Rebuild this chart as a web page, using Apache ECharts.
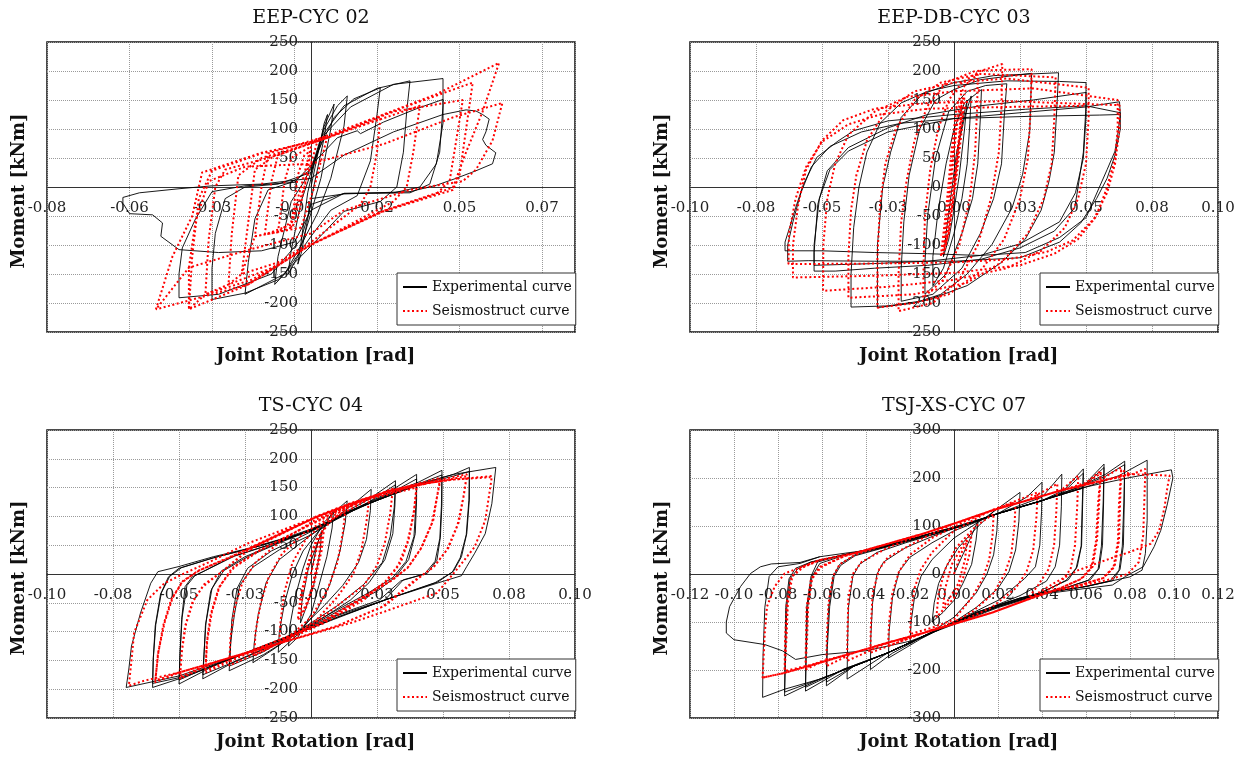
<!DOCTYPE html>
<html><head><meta charset="utf-8">
<script src="https://cdn.jsdelivr.net/npm/echarts@6.0.0/dist/echarts.min.js"></script>
<style>html,body{margin:0;padding:0;background:#fff}#c{width:1242px;height:761px}</style>
</head><body><div id="c"></div>
<script>
// ---------------- data ----------------
const panelTitles = ['EEP-CYC 02', 'EEP-DB-CYC 03', 'TS-CYC 04', 'TSJ-XS-CYC 07'];
const seriesNames = ['Experimental curve', 'Seismostruct curve'];
const xAxisTitle = 'Joint Rotation [rad]';
const yAxisTitle = 'Moment [kNm]';
const xMin = [-0.08, -0.10, -0.10, -0.12];
const xMax = [0.08, 0.10, 0.10, 0.12];
const xStep = [0.025, 0.025, 0.025, 0.02];
const yMin = [-250, -250, -250, -300];
const yMax = [250, 250, 250, 300];
const yStep = [50, 50, 50, 100];

// EEP-CYC 02
const exp1 = [
[0,0],[0.002,55],[0.004,110],[0.005,125],[0.004,85],[0.001,5],[-0.001,-55],[-0.003,-115],[-0.004,-133],[-0.003,-95],[-0.001,-10],
[0.001,40],[0.004,105],[0.007,143],[0.006,100],[0.003,15],[0.000,-45],[-0.004,-120],[-0.007,-151],[-0.006,-110],[-0.003,-25],
[0.000,25],[0.004,100],[0.008,140],[0.011,157],[0.010,105],[0.006,15],[0.002,-45],[-0.003,-100],[-0.008,-150],[-0.011,-168],[-0.010,-120],[-0.006,-25],[-0.002,10],
[0.002,60],[0.007,120],[0.013,152],[0.021,171],[0.020,125],[0.018,45],[0.014,-15],[0.006,-40],[0.000,-85],[-0.008,-150],[-0.020,-185],[-0.019,-130],[-0.017,-55],[-0.013,-5],[-0.006,8],[0.000,30],
[0.003,85],[0.010,140],[0.020,170],[0.030,183],[0.029,130],[0.028,60],[0.026,0],[0.021,-25],[0.010,-42],[0.002,-90],[-0.010,-160],[-0.020,-183],[-0.030,-194],[-0.030,-140],[-0.029,-80],[-0.026,-20],[-0.020,0],[-0.010,5],[0.000,25],
[0.004,90],[0.012,138],[0.025,177],[0.040,187],[0.040,140],[0.039,60],[0.036,5],[0.030,-10],[0.010,-11],[0.000,-30],[-0.003,-90],[-0.012,-150],[-0.028,-185],[-0.040,-191],[-0.040,-150],[-0.039,-105],[-0.035,-55],[-0.030,-8],[-0.020,2],[-0.005,8],
[0.003,55],[0.008,85],[0.014,97],[0.015,92],[0.022,112],[0.032,135],[0.040,151],[0.040,110],[0.038,40],[0.033,0],[0.025,-10],[0.010,-11],[0.000,-40],[-0.005,-95],[-0.015,-110],[-0.028,-113],[-0.040,-108],[-0.0455,-85],[-0.045,-62],[-0.048,-48],[-0.055,-46],[-0.057,-28],[-0.057,-18],[-0.052,-10],[-0.040,-3],[-0.030,2],[-0.015,5],[0.000,15],
[0.010,55],[0.025,95],[0.040,125],[0.047,133],[0.050,131],[0.052,125],[0.054,117],[0.053,95],[0.052,82],[0.053,72],[0.056,59],[0.055,40],[0.050,28],[0.044,15],[0.038,3],[0.030,-8],[0.010,-12],[0.000,-20]
];
const sim1 = [
[-0.006,-70],[-0.004,20],[-0.002,55],[0.000,62],[-0.002,0],[-0.004,-55],[-0.006,-70],
[-0.010,-78],[-0.008,10],[-0.006,50],[0.000,70],[-0.003,0],[-0.006,-60],[-0.010,-78],
[-0.014,-82],[-0.012,10],[-0.010,55],[0.002,80],[-0.002,0],[-0.006,-65],[-0.014,-82],
[-0.017,-85],[-0.015,0],[-0.013,58],[0.005,88],[0.001,0],[-0.003,-70],[-0.017,-85],
[-0.021,-150],[-0.019,-60],[-0.017,30],[-0.010,58],[0.000,75],[0.010,95],[0.021,118],[0.020,60],[0.018,0],[0.015,-30],[0.000,-95],[-0.010,-130],[-0.021,-150],
[-0.025,-168],[-0.024,-80],[-0.022,20],[-0.015,50],[0.000,75],[0.015,105],[0.033,140],[0.031,60],[0.029,0],[0.025,-25],[0.010,-70],[0.000,-100],[-0.012,-140],[-0.025,-168],
[-0.032,-185],[-0.031,-90],[-0.029,0],[-0.026,30],[-0.010,55],[0.005,85],[0.025,130],[0.046,150],[0.044,80],[0.042,10],[0.038,-12],[0.020,-45],[0.000,-100],[-0.018,-160],[-0.032,-185],
[-0.037,-211],[-0.036,-120],[-0.034,-20],[-0.030,28],[-0.015,58],[0.000,78],[0.022,125],[0.049,180],[0.047,100],[0.045,20],[0.043,-5],[0.022,-42],[0.000,-99],[-0.019,-168],[-0.037,-211],
[-0.037,-139],[-0.035,-60],[-0.031,10],[-0.020,35],[0.000,40],[0.022,74],[0.043,120],[0.058,145],[0.055,80],[0.050,30],[0.046,10],[0.030,-5],[0.010,-40],[0.000,-80],[-0.020,-110],[-0.037,-139],
[-0.047,-211],[-0.042,-120],[-0.036,-50],[-0.033,25],[-0.015,59],[0.002,79],[0.022,125],[0.038,160],[0.057,214],[0.052,130],[0.047,60],[0.043,-1],[0.022,-41],[0.000,-99],[-0.019,-168],[-0.047,-211]
];

// EEP-DB-CYC 03
const exp2 = [
[0,0],[0.002,80],[0.004,130],[0.005,150],[0.004,100],[0.002,20],[0.000,-40],[-0.002,-90],[-0.004,-120],[-0.003,-80],[-0.001,-10],[0.001,60],
[0.004,120],[0.0065,157],[0.006,110],[0.005,40],[0.003,-20],[0.000,-80],[-0.004,-140],[-0.008,-170],[-0.008,-120],[-0.006,-40],[-0.003,40],[0.000,100],
[0.004,145],[0.0104,168],[0.010,120],[0.009,40],[0.007,-20],[0.003,-80],[-0.003,-150],[-0.011,-185],[-0.011,-130],[-0.010,-50],[-0.007,50],[-0.002,130],
[0.005,165],[0.012,175],[0.020,178],[0.019,120],[0.018,40],[0.015,-20],[0.010,-80],[0.003,-140],[-0.008,-185],[-0.020,-197],[-0.020,-140],[-0.019,-60],[-0.017,20],[-0.013,100],[-0.007,150],[0.000,168],
[0.010,185],[0.0294,196],[0.029,140],[0.0287,97],[0.026,22],[0.022,-36],[0.0144,-99],[0.005,-150],[-0.005,-185],[-0.015,-200],[-0.029,-208],[-0.029,-150],[-0.029,-100],[-0.027,0],[-0.024,60],[-0.020,120],[-0.012,160],[0.000,180],
[0.015,192],[0.0396,197],[0.039,140],[0.038,60],[0.036,10],[0.033,-40],[0.027,-90],[0.018,-130],[0.005,-170],[-0.010,-195],[-0.025,-205],[-0.039,-207],[-0.039,-150],[-0.038,-70],[-0.036,0],[-0.033,60],[-0.028,110],[-0.020,145],[-0.010,165],[0.000,175],
[0.020,183],[0.040,182],[0.050,180],[0.050,140],[0.049,60],[0.047,0],[0.0457,-36],[0.038,-76],[0.025,-105],[0.010,-125],[-0.010,-135],[-0.030,-140],[-0.045,-145],[-0.053,-145],[-0.053,-113],[-0.0516,-30],[-0.048,28],[-0.040,68],[-0.025,102],[-0.010,125],[0.010,140],[0.030,150],[0.050,163],
[0.050,120],[0.049,50],[0.046,-10],[0.040,-60],[0.025,-98],[0.010,-118],[-0.010,-128],[-0.030,-132],[-0.053,-135],[-0.053,-100],[-0.051,-20],[-0.047,30],[-0.040,62],[-0.025,95],[0.000,118],[0.030,130],
[0.050,138],[0.0627,147],[0.063,125],[0.062,90],[0.061,62],[0.058,30],[0.055,-1],[0.050,-53],[0.040,-87],[0.027,-113],[0.010,-118],[-0.010,-115],[-0.030,-113],[-0.050,-110],[-0.064,-110],[-0.064,-95],[-0.0627,-76],[-0.060,-36],[-0.057,5],[-0.052,51],[-0.044,79],[-0.038,97],[-0.025,114],[0.000,125],[0.027,134],[0.050,140],[0.063,128],
[0.063,100],[0.061,55],[0.058,15],[0.054,-20],[0.048,-62],[0.040,-95],[0.025,-122],[0.000,-128],[-0.030,-128],[-0.055,-127],[-0.063,-128],[-0.063,-100],[-0.061,-60],[-0.058,-10],[-0.054,35],[-0.047,70],[-0.035,95],[-0.020,110],[0.000,118],[0.030,122],[0.055,124],[0.063,125]
];
const sim2 = [
[0,0],[0.002,90],[0.003,130],[0.002,80],[0.000,-10],[-0.002,-80],[-0.004,-110],[-0.003,-60],[-0.001,30],[0.001,110],[0.003,150],[0.002,90],[0.000,10],[-0.003,-100],[-0.004,-115],[-0.002,-40],[0.000,60],[0.002,140],[0.004,160],[0.003,100],[0.001,20],[-0.002,-80],[-0.005,-120],[-0.003,-40],[-0.001,60],[0.001,140],
[0.004,175],[0.009,194],[0.0088,140],[0.008,60],[0.006,-20],[0.002,-100],[-0.004,-160],[-0.0117,-191],[-0.0115,-130],[-0.011,-50],[-0.009,30],[-0.006,100],[-0.002,150],[0.003,180],
[0.010,200],[0.0183,212],[0.018,140],[0.017,60],[0.014,-20],[0.009,-100],[0.002,-160],[-0.008,-200],[-0.021,-214],[-0.021,-150],[-0.020,-60],[-0.018,10],[-0.015,80],[-0.010,140],[-0.003,180],[0.008,200],
[0.018,202],[0.0294,203],[0.029,130],[0.028,50],[0.025,-20],[0.019,-90],[0.010,-145],[-0.002,-185],[-0.015,-200],[-0.029,-208],[-0.029,-120],[-0.028,-30],[-0.026,40],[-0.022,100],[-0.015,150],[-0.005,180],[0.010,195],
[0.0385,189],[0.038,120],[0.037,40],[0.034,-20],[0.028,-80],[0.018,-130],[0.005,-165],[-0.015,-185],[-0.040,-191],[-0.040,-120],[-0.039,-40],[-0.037,20],[-0.033,80],[-0.026,130],[-0.015,165],[0.000,180],[0.020,187],
[0.051,171],[0.051,120],[0.050,40],[0.047,-20],[0.042,-70],[0.033,-110],[0.020,-140],[0.000,-160],[-0.025,-172],[-0.0496,-179],[-0.0495,-100],[-0.048,-20],[-0.045,40],[-0.040,90],[-0.030,130],[-0.018,155],[0.000,165],[0.030,170],
[0.062,150],[0.062,100],[0.061,50],[0.058,0],[0.054,-50],[0.047,-90],[0.038,-115],[0.025,-135],[0.000,-148],[-0.030,-153],[-0.061,-156],[-0.061,-100],[-0.059,-30],[-0.056,30],[-0.050,80],[-0.042,115],[-0.030,135],[-0.010,145],[0.020,148],[0.0627,141],
[0.0627,100],[0.061,40],[0.058,-10],[0.053,-55],[0.045,-92],[0.035,-112],[0.020,-125],[0.000,-130],[-0.030,-132],[-0.0627,-133],[-0.0625,-80],[-0.060,-20],[-0.056,35],[-0.050,78],[-0.040,108],[-0.028,125],[-0.010,135],[0.020,138],[0.050,140]
];

// TS-CYC 04
const exp3 = [
[0,0],[0.002,45],[0.004,75],[0.0035,40],[0.001,-20],[-0.002,-60],[-0.004,-85],[-0.0035,-50],[-0.001,10],
[0.003,60],[0.006,90],[0.0085,110],[0.008,80],[0.006,30],[0.003,-20],[0.000,-70],[-0.005,-110],[-0.0085,-125],[-0.008,-90],[-0.006,-40],[-0.003,10],[0.000,50],
[0.005,90],[0.010,112],[0.0137,127],[0.013,90],[0.011,40],[0.007,-20],[0.002,-65],[-0.005,-105],[-0.0124,-136],[-0.012,-100],[-0.010,-50],[-0.007,0],[-0.003,40],[0.003,75],
[0.010,100],[0.017,125],[0.0228,147],[0.0225,110],[0.021,60],[0.018,20],[0.012,-20],[0.005,-55],[-0.005,-100],[-0.014,-130],[-0.022,-154],[-0.0215,-120],[-0.020,-70],[-0.017,-15],[-0.012,25],[-0.005,50],[0.003,78],
[0.012,105],[0.022,130],[0.032,162],[0.0318,120],[0.031,70],[0.028,25],[0.022,-15],[0.015,-45],[0.005,-75],[-0.005,-103],[-0.018,-140],[-0.031,-168],[-0.0305,-130],[-0.030,-80],[-0.028,-25],[-0.024,10],[-0.015,40],[-0.005,62],[0.005,85],
[0.012,100],[0.022,125],[0.032,155],[0.0315,115],[0.030,65],[0.027,20],[0.020,-18],[0.010,-55],[-0.005,-100],[-0.018,-135],[-0.031,-160],[-0.0305,-120],[-0.029,-70],[-0.027,-20],[-0.022,12],[-0.012,42],[0.000,68],
[0.015,110],[0.028,138],[0.040,173],[0.040,130],[0.0395,70],[0.037,25],[0.032,-5],[0.025,-30],[0.012,-60],[0.000,-90],[-0.015,-125],[-0.030,-155],[-0.041,-182],[-0.0405,-140],[-0.040,-90],[-0.038,-30],[-0.034,5],[-0.025,30],[-0.012,55],[0.000,78],
[0.015,108],[0.028,135],[0.040,165],[0.0398,125],[0.039,65],[0.036,22],[0.031,-6],[0.022,-32],[0.010,-62],[-0.002,-92],[-0.018,-130],[-0.032,-158],[-0.041,-175],[-0.0405,-135],[-0.0398,-85],[-0.0375,-25],[-0.033,6],[-0.024,30],[-0.012,54],[0.000,76],
[0.015,110],[0.030,140],[0.041,160],[0.0496,180],[0.0496,122],[0.049,64],[0.0477,24],[0.044,1],[0.035,-10],[0.028,-45],[0.010,-72],[-0.005,-102],[-0.024,-136],[-0.037,-160],[-0.050,-191],[-0.0496,-136],[-0.049,-79],[-0.0477,-22],[-0.045,-5],[-0.041,4],[-0.030,30],[-0.015,52],[0.000,75],
[0.015,108],[0.030,138],[0.041,157],[0.0496,172],[0.0494,118],[0.0488,62],[0.047,22],[0.043,0],[0.034,-12],[0.026,-45],[0.008,-74],[-0.006,-103],[-0.025,-137],[-0.038,-160],[-0.050,-184],[-0.0495,-130],[-0.0488,-75],[-0.047,-20],[-0.044,-3],[-0.040,6],[-0.029,31],[-0.014,53],[0.000,76],
[0.015,110],[0.028,133],[0.041,156],[0.054,173],[0.060,185],[0.060,130],[0.059,70],[0.057,30],[0.054,5],[0.048,-14],[0.030,-42],[0.010,-75],[-0.005,-103],[-0.024,-136],[-0.040,-165],[-0.050,-182],[-0.060,-197],[-0.0598,-150],[-0.059,-90],[-0.057,-35],[-0.054,-5],[-0.050,10],[-0.037,28],[-0.020,48],[0.000,75],
[0.015,110],[0.028,133],[0.041,155],[0.054,170],[0.060,178],[0.0598,128],[0.0588,68],[0.0565,28],[0.0535,3],[0.047,-15],[0.030,-42],[0.010,-75],[-0.005,-103],[-0.024,-136],[-0.040,-164],[-0.050,-180],[-0.060,-190],[-0.0597,-145],[-0.0588,-88],[-0.0567,-33],[-0.0535,-4],[-0.049,11],[-0.037,28],[-0.020,48],[0.000,75],
[0.015,110],[0.028,133],[0.041,156],[0.054,173],[0.070,185],[0.0685,122],[0.066,70],[0.062,36],[0.059,13],[0.057,-3],[0.0477,-16],[0.028,-45],[0.0085,-79],[-0.0046,-102],[-0.024,-136],[-0.050,-177],[-0.070,-197],[-0.069,-165],[-0.068,-125],[-0.0646,-68],[-0.0607,-16],[-0.058,4],[-0.050,13],[-0.037,30],[-0.024,44],[-0.011,61],[0.002,81]
];
const sim3 = [
[0,0],[0.002,40],[0.004,70],[0.003,30],[0.000,-30],[-0.002,-55],[-0.004,-70],[-0.003,-30],[0.000,30],[0.003,65],[0.005,80],[0.004,40],[0.001,-20],[-0.002,-60],[-0.005,-80],[-0.004,-40],[-0.001,20],[0.002,60],
[0.008,95],[0.013,110],[0.012,70],[0.010,20],[0.006,-30],[0.000,-75],[-0.006,-100],[-0.012,-120],[-0.0115,-80],[-0.010,-30],[-0.007,20],[-0.002,60],[0.004,85],
[0.012,105],[0.022,130],[0.021,90],[0.019,40],[0.016,0],[0.010,-40],[0.002,-80],[-0.010,-115],[-0.0215,-142],[-0.021,-100],[-0.019,-50],[-0.016,-5],[-0.011,35],[-0.003,70],[0.008,100],
[0.018,125],[0.031,148],[0.030,105],[0.028,55],[0.025,15],[0.020,-20],[0.010,-55],[0.000,-90],[-0.012,-120],[-0.031,-159],[-0.0305,-110],[-0.029,-60],[-0.026,-15],[-0.021,20],[-0.012,55],[0.002,95],
[0.020,130],[0.040,153],[0.039,110],[0.037,60],[0.034,20],[0.029,-10],[0.020,-45],[0.005,-85],[-0.012,-120],[-0.025,-140],[-0.040,-171],[-0.0395,-120],[-0.038,-70],[-0.035,-25],[-0.030,10],[-0.020,40],[-0.005,75],[0.010,110],
[0.020,128],[0.040,150],[0.039,105],[0.0365,55],[0.033,15],[0.028,-14],[0.018,-48],[0.004,-87],[-0.012,-120],[-0.025,-140],[-0.040,-167],[-0.0393,-115],[-0.0375,-65],[-0.0345,-20],[-0.029,12],[-0.019,42],[-0.004,77],[0.010,108],
[0.028,142],[0.049,167],[0.0483,150],[0.0463,93],[0.042,47],[0.037,13],[0.031,-10],[0.020,-40],[0.002,-90],[-0.024,-136],[-0.037,-154],[-0.0496,-182],[-0.049,-136],[-0.0477,-91],[-0.045,-50],[-0.041,-22],[-0.0346,1],[-0.024,40],[-0.011,70],[0.002,99],[0.015,122],
[0.028,140],[0.049,163],[0.048,140],[0.0458,88],[0.0415,43],[0.0365,10],[0.030,-12],[0.019,-42],[0.001,-91],[-0.024,-136],[-0.037,-154],[-0.0496,-178],[-0.0488,-130],[-0.0473,-86],[-0.0445,-46],[-0.0405,-18],[-0.034,3],[-0.024,42],[-0.011,72],[0.002,100],[0.015,123],
[0.030,145],[0.045,160],[0.059,173],[0.058,140],[0.056,90],[0.052,45],[0.047,15],[0.040,-10],[0.028,-55],[0.010,-90],[-0.011,-119],[-0.037,-154],[-0.050,-171],[-0.059,-188],[-0.058,-140],[-0.056,-90],[-0.053,-45],[-0.049,-15],[-0.043,5],[-0.030,30],[-0.015,62],[0.002,99],[0.015,122],
[0.030,145],[0.045,158],[0.059,170],[0.0578,135],[0.0555,85],[0.0515,42],[0.0465,12],[0.039,-12],[0.027,-57],[0.010,-90],[-0.011,-119],[-0.037,-154],[-0.050,-171],[-0.059,-185],[-0.0578,-135],[-0.0555,-85],[-0.0525,-42],[-0.0485,-12],[-0.042,7],[-0.030,31],[-0.015,63],[0.002,99],[0.015,122],
[0.028,142],[0.041,156],[0.054,164],[0.0685,170],[0.0679,150],[0.066,93],[0.062,47],[0.057,18],[0.052,-10],[0.0477,-33],[0.028,-65],[0.015,-85],[0.002,-102],[-0.011,-119],[-0.024,-136],[-0.037,-154],[-0.050,-171],[-0.063,-185],[-0.069,-194],[-0.068,-150],[-0.067,-102],[-0.062,-45],[-0.0555,-16],[-0.048,1],[-0.037,24],[-0.024,53],[-0.011,76],[0.002,99],[0.015,122],[0.028,142],[0.041,156],[0.054,164],[0.068,168]
];

// TSJ-XS-CYC 07
const exp4 = [
[0,0],[0.004,40],[0.008,80],[0.011,112],[0.010,70],[0.008,20],[0.004,-20],[0.000,-55],[-0.005,-80],[-0.010,-100],[-0.009,-60],[-0.007,-20],[-0.003,20],[0.002,55],
[0.010,95],[0.020,139],[0.0195,90],[0.018,40],[0.015,0],[0.010,-40],[0.000,-90],[-0.010,-120],[-0.020,-145],[-0.0195,-100],[-0.018,-50],[-0.015,-5],[-0.010,30],[0.000,75],
[0.015,120],[0.030,170],[0.0295,110],[0.028,50],[0.025,5],[0.020,-30],[0.010,-70],[0.000,-100],[-0.015,-135],[-0.0298,-175],[-0.0295,-120],[-0.028,-50],[-0.025,5],[-0.020,35],[-0.010,65],[0.000,90],
[0.020,126],[0.033,160],[0.040,191],[0.0398,130],[0.039,60],[0.037,15],[0.032,-10],[0.020,-55],[0.000,-100],[-0.014,-130],[-0.028,-165],[-0.038,-199],[-0.0378,-130],[-0.037,-60],[-0.035,0],[-0.032,25],[-0.022,55],[-0.010,78],[0.000,95],
[0.020,126],[0.040,160],[0.049,208],[0.0488,140],[0.048,60],[0.046,15],[0.042,-15],[0.030,-45],[0.000,-100],[-0.014,-130],[-0.030,-164],[-0.0486,-219],[-0.0484,-150],[-0.048,-70],[-0.046,-5],[-0.043,20],[-0.035,45],[-0.022,65],[0.000,95],
[0.020,126],[0.040,153],[0.050,175],[0.0588,219],[0.0585,150],[0.058,60],[0.056,15],[0.052,-12],[0.040,-38],[0.020,-65],[0.000,-100],[-0.014,-130],[-0.030,-164],[-0.0455,-192],[-0.058,-233],[-0.0578,-160],[-0.057,-70],[-0.055,-5],[-0.052,20],[-0.045,40],[-0.030,58],[-0.010,82],[0.005,102],
[0.020,126],[0.040,152],[0.050,172],[0.0588,210],[0.0583,145],[0.0578,58],[0.0555,12],[0.051,-13],[0.040,-38],[0.020,-66],[0.000,-101],[-0.014,-130],[-0.030,-164],[-0.0455,-192],[-0.058,-225],[-0.0576,-155],[-0.0565,-68],[-0.0545,-5],[-0.0515,18],[-0.045,38],[-0.030,57],[-0.010,82],[0.005,102],
[0.020,126],[0.040,153],[0.058,180],[0.0682,229],[0.068,150],[0.0675,60],[0.066,12],[0.062,-12],[0.050,-30],[0.030,-50],[0.010,-80],[0.000,-102],[-0.014,-130],[-0.030,-164],[-0.050,-198],[-0.0675,-244],[-0.0673,-160],[-0.067,-70],[-0.065,-5],[-0.062,25],[-0.050,40],[-0.030,58],[-0.010,85],[0.005,102],
[0.020,126],[0.040,153],[0.058,178],[0.0682,222],[0.0678,148],[0.067,58],[0.0655,10],[0.061,-13],[0.050,-30],[0.030,-50],[0.010,-80],[0.000,-102],[-0.014,-130],[-0.030,-164],[-0.050,-198],[-0.0675,-236],[-0.0671,-155],[-0.0665,-68],[-0.0645,-5],[-0.061,22],[-0.050,39],[-0.030,58],[-0.010,85],[0.005,102],
[0.020,126],[0.040,153],[0.0565,181],[0.069,208],[0.0776,235],[0.0774,150],[0.077,60],[0.0755,10],[0.072,-14],[0.060,-26],[0.040,-40],[0.020,-68],[0.000,-102],[-0.014,-130],[-0.030,-164],[-0.0455,-192],[-0.061,-219],[-0.077,-254],[-0.0768,-170],[-0.0765,-70],[-0.075,-10],[-0.072,12],[-0.065,25],[-0.050,40],[-0.030,60],[-0.010,85],[0.005,103],
[0.020,126],[0.040,153],[0.0565,180],[0.069,204],[0.0776,228],[0.0772,148],[0.0765,58],[0.075,8],[0.071,-14],[0.060,-26],[0.040,-40],[0.020,-68],[0.000,-102],[-0.014,-130],[-0.030,-164],[-0.0455,-192],[-0.061,-219],[-0.077,-246],[-0.0765,-165],[-0.076,-68],[-0.0745,-10],[-0.071,11],[-0.065,25],[-0.050,40],[-0.030,60],[-0.010,85],[0.005,103],
[0.020,126],[0.040,153],[0.060,181],[0.075,205],[0.0878,237],[0.0878,112],[0.087,43],[0.0855,8],[0.080,-6],[0.060,-26],[0.040,-40],[0.020,-68],[0.000,-102],[-0.014,-130],[-0.030,-164],[-0.0455,-192],[-0.061,-219],[-0.077,-240],[-0.087,-257],[-0.0868,-170],[-0.086,-70],[-0.084,-5],[-0.080,15],[-0.070,22],[-0.061,36],[-0.039,50],[-0.022,70],[0.000,98],
[0.0204,126],[0.040,153],[0.0596,181],[0.080,201],[0.0988,217],[0.0995,200],[0.097,146],[0.094,91],[0.091,57],[0.086,15],[0.078,-5],[0.072,-23],[0.060,-30],[0.040,-42],[0.020,-70],[0.000,-105],[-0.020,-140],[-0.040,-160],[-0.060,-168],[-0.072,-178],[-0.078,-160],[-0.086,-147],[-0.100,-137],[-0.1035,-123],[-0.1035,-100],[-0.102,-68],[-0.097,-26],[-0.0925,1],[-0.088,15],[-0.083,21],[-0.070,24],[-0.061,36]
];
const sim4 = [
[0,0],[0.003,40],[0.006,70],[0.005,30],[0.002,-20],[-0.002,-50],[-0.005,-70],[-0.004,-30],[-0.001,20],[0.004,60],[0.008,85],[0.007,40],[0.004,-10],[0.000,-50],[-0.006,-80],[-0.008,-90],[-0.007,-40],[-0.004,10],[0.001,55],
[0.010,100],[0.018,125],[0.0175,80],[0.016,30],[0.013,-10],[0.008,-50],[0.000,-95],[-0.010,-112],[-0.020,-125],[-0.0195,-80],[-0.018,-30],[-0.015,10],[-0.010,45],[0.000,90],
[0.015,128],[0.028,150],[0.0275,100],[0.026,40],[0.023,0],[0.018,-40],[0.008,-80],[0.000,-100],[-0.014,-123],[-0.030,-150],[-0.0295,-100],[-0.028,-40],[-0.025,5],[-0.020,40],[-0.010,75],[0.005,110],
[0.020,138],[0.038,170],[0.0375,120],[0.036,50],[0.033,5],[0.028,-30],[0.017,-70],[0.0016,-102],[-0.014,-123],[-0.038,-164],[-0.0378,-110],[-0.037,-40],[-0.034,10],[-0.030,35],[-0.014,75],[0.000,105],[0.017,132],
[0.033,153],[0.047,188],[0.0465,130],[0.0455,60],[0.043,10],[0.038,-25],[0.033,-54],[0.017,-81],[0.0016,-102],[-0.014,-123],[-0.030,-143],[-0.0486,-181],[-0.0484,-120],[-0.048,-50],[-0.046,0],[-0.042,25],[-0.030,55],[-0.014,84],[0.000,105],[0.017,132],[0.033,153],
[0.0486,174],[0.0565,205],[0.056,140],[0.055,60],[0.053,10],[0.048,-20],[0.040,-40],[0.033,-54],[0.017,-81],[0.0016,-102],[-0.014,-123],[-0.030,-143],[-0.0455,-164],[-0.058,-192],[-0.0578,-130],[-0.057,-60],[-0.055,-5],[-0.052,20],[-0.045,40],[-0.030,63],[-0.014,84],[0.000,105],[0.017,132],[0.033,153],[0.0486,174],
[0.060,190],[0.0667,215],[0.066,150],[0.065,70],[0.063,15],[0.058,-10],[0.048,-30],[0.033,-54],[0.017,-81],[0.0016,-102],[-0.014,-123],[-0.030,-143],[-0.0455,-164],[-0.061,-185],[-0.0675,-199],[-0.0673,-140],[-0.067,-70],[-0.065,-10],[-0.061,15],[-0.050,37],[-0.030,63],[-0.014,84],[0.000,105],[0.017,132],[0.033,153],[0.0486,174],[0.064,191],
[0.060,188],[0.0667,210],[0.0655,148],[0.0645,68],[0.0625,14],[0.0575,-11],[0.048,-30],[0.033,-54],[0.017,-81],[0.0016,-102],[-0.014,-123],[-0.030,-143],[-0.0455,-164],[-0.061,-183],[-0.0675,-195],[-0.0668,-138],[-0.0663,-68],[-0.0645,-10],[-0.0605,14],[-0.050,37],[-0.030,63],[-0.014,84],[0.000,105],[0.017,132],[0.033,153],[0.0486,174],[0.064,190],
[0.076,222],[0.0755,150],[0.075,70],[0.073,15],[0.068,-8],[0.058,-22],[0.045,-35],[0.033,-54],[0.017,-81],[0.0016,-102],[-0.014,-123],[-0.030,-143],[-0.0455,-164],[-0.061,-185],[-0.077,-206],[-0.0768,-140],[-0.076,-60],[-0.074,-5],[-0.069,15],[-0.061,29],[-0.0455,43],[-0.030,63],[-0.014,84],[0.000,105],[0.017,132],[0.033,153],[0.0486,174],[0.064,191],[0.080,208],
[0.076,217],[0.075,148],[0.0745,68],[0.0725,14],[0.0675,-9],[0.058,-22],[0.045,-35],[0.033,-54],[0.017,-81],[0.0016,-102],[-0.014,-123],[-0.030,-143],[-0.0455,-164],[-0.061,-185],[-0.077,-202],[-0.0762,-138],[-0.0755,-60],[-0.0735,-5],[-0.0685,14],[-0.061,29],[-0.0455,43],[-0.030,63],[-0.014,84],[0.000,105],[0.017,132],[0.033,153],[0.0486,174],[0.064,191],[0.080,206],
[0.087,219],[0.0865,150],[0.086,80],[0.084,25],[0.079,0],[0.070,-12],[0.055,-28],[0.0455,-35],[0.033,-54],[0.017,-81],[0.0016,-102],[-0.014,-123],[-0.030,-143],[-0.0455,-164],[-0.061,-185],[-0.077,-206],[-0.087,-216],[-0.086,-123],[-0.085,-68],[-0.0815,-26],[-0.077,1],[-0.069,15],[-0.061,29],[-0.0455,43],[-0.030,63],[-0.014,84],[0.000,105],[0.017,132],[0.033,153],[0.0486,174],[0.064,191],[0.080,208],
[0.098,205],[0.097,181],[0.0957,139],[0.0933,91],[0.0894,63],[0.080,46],[0.069,29],[0.0565,8],[0.0455,-19],[0.033,-54],[0.017,-81],[0.0016,-102],[-0.014,-123],[-0.030,-143],[-0.0455,-164],[-0.061,-185],[-0.077,-206],[-0.087,-216]
];

const expData = [exp1, exp2, exp3, exp4];
const simData = [sim1, sim2, sim3, sim4];

// ---------------- layout / style ----------------
const SERIF = '"DejaVu Serif", "Liberation Serif", serif';
const grids = [
  {left: 47, top: 42, width: 528, height: 290},
  {left: 690, top: 42, width: 528, height: 290},
  {left: 47, top: 430, width: 528, height: 288},
  {left: 690, top: 430, width: 528, height: 288}
];

function fmtX(v) {
  if (Math.abs(v) < 1e-9) return '0.00';
  const r = Math.round(Math.abs(v) * 100 + 1e-7) / 100;
  return (v < 0 ? '-' : '') + r.toFixed(2);
}

const option = {
  animation: false,
  backgroundColor: '#fff',
  title: grids.map((g, i) => ({
    text: panelTitles[i],
    left: g.left + g.width / 2,
    top: g.top - 33,
    textAlign: 'center',
    padding: 0,
    textStyle: {fontFamily: SERIF, fontSize: 19, fontWeight: 'normal', color: '#111'}
  })),
  grid: grids.map(g => Object.assign({
    show: true, borderColor: '#111', borderWidth: 1.5, backgroundColor: 'transparent',
    containLabel: false, outerBoundsMode: 'none'
  }, g)),
  // axes sit on the zero lines: the zero of each range is at the middle of the plot
  xAxis: grids.map((g, i) => ({
    type: 'value', gridIndex: i, min: xMin[i], max: xMax[i], interval: xStep[i],
    position: 'bottom',
    offset: -g.height * (0 - yMin[i]) / (yMax[i] - yMin[i]),
    axisLine: {onZero: false, lineStyle: {color: '#333', width: 1}},
    axisTick: {show: false},
    axisLabel: {formatter: fmtX, fontFamily: SERIF, fontSize: 15, color: '#222', margin: 14,
      showMinLabel: true, showMaxLabel: i !== 0, hideOverlap: false},
    splitLine: {show: true, lineStyle: {type: 'dotted', color: '#9a9a9a', width: 1}}
  })),
  yAxis: grids.map((g, i) => ({
    type: 'value', gridIndex: i, min: yMin[i], max: yMax[i], interval: yStep[i],
    position: 'left',
    offset: -g.width * (0 - xMin[i]) / (xMax[i] - xMin[i]),
    axisLine: {onZero: false, lineStyle: {color: '#333', width: 1}},
    axisTick: {show: false},
    axisLabel: {fontFamily: SERIF, fontSize: 15, color: '#222', margin: 13, hideOverlap: false},
    splitLine: {show: true, lineStyle: {type: 'dotted', color: '#9a9a9a', width: 1}}
  })),
  legend: grids.map(g => ({
    data: seriesNames,
    orient: 'vertical',
    left: g.left + g.width - 178,
    top: g.top + g.height - 59,
    padding: [7, 4, 7, 5],
    itemGap: 10,
    itemWidth: 24,
    itemHeight: 14,
    borderColor: '#333',
    borderWidth: 1,
    backgroundColor: '#fff',
    itemStyle: {opacity: 0},
    textStyle: {fontFamily: SERIF, fontSize: 14, color: '#111'}
  })),
  graphic: [].concat(
    grids.map(g => ({
      type: 'text', left: g.left + g.width / 2 - 95, top: g.top + g.height + 15,
      style: {text: xAxisTitle, font: 'bold 18px ' + SERIF, fill: '#111'}
    })),
    grids.map(g => ({
      type: 'text', x: g.left - 28, y: g.top + g.height / 2 + 4, rotation: Math.PI / 2,
      style: {text: yAxisTitle, x: 0, y: 0, align: 'center', verticalAlign: 'middle', font: 'bold 18px ' + SERIF, fill: '#111'}
    }))
  ),
  series: [].concat(
    expData.map((d, i) => ({
      name: seriesNames[0], type: 'line', xAxisIndex: i, yAxisIndex: i, data: d,
      symbol: 'none', smooth: false, z: 3,
      itemStyle: {color: '#000'},
      lineStyle: {color: '#000', width: 0.9}
    })),
    simData.map((d, i) => ({
      name: seriesNames[1], type: 'line', xAxisIndex: i, yAxisIndex: i, data: d,
      symbol: 'none', smooth: false, z: 4,
      itemStyle: {color: '#ff0000'},
      lineStyle: {color: '#ff0000', width: 2, type: [2, 2.5]}
    }))
  )
};

const chart = echarts.init(document.getElementById('c'), null, {renderer: 'canvas'});
chart.setOption(option);
</script>
</body></html>
